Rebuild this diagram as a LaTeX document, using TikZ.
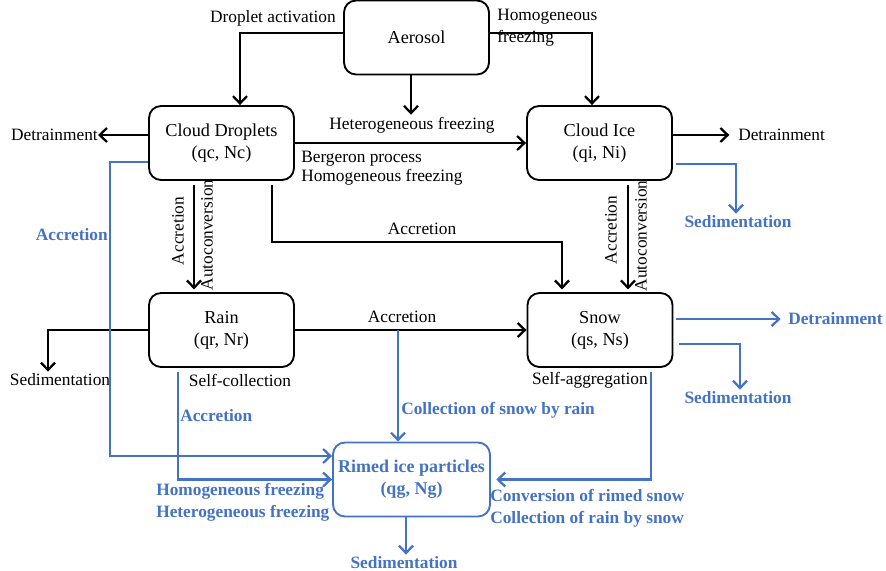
\documentclass[tikz,border=0pt]{standalone}
\usepackage{fontspec}
\setmainfont{Liberation Serif}
\usetikzlibrary{arrows.meta,positioning}
\definecolor{MicroBlue}{HTML}{4472C4}
\definecolor{MicroInk}{HTML}{000000}

\begin{document}
\begin{tikzpicture}[
  x=0.75pt,y=-0.75pt,
  font=\fontsize{13}{16.5}\selectfont,
  box/.style={draw=MicroInk,rounded corners=9pt,line width=1.4pt,minimum width=108.75pt,minimum height=55.5pt,align=center,inner sep=2pt,font=\fontsize{13.7}{16.5}\selectfont},
  rimbox/.style={box,draw=MicroBlue,text=MicroBlue,font=\fontsize{13.5}{16.5}\selectfont\bfseries,minimum width=117.75pt},
  flow/.style={line width=2.1pt,-{Straight Barb[length=5.5pt,width=10.5pt,line width=1.7pt]}},
  bflow/.style={flow,draw=MicroBlue},
  lbl/.style={inner sep=1.5pt},
  blbl/.style={lbl,text=MicroBlue,font=\fontsize{13}{16.5}\selectfont\bfseries},
]
\useasboundingbox (0,0) rectangle (886,571);

% species boxes
\node[box] (aerosol) at (416.5,37.5) {Aerosol};
\node[box] (droplets) at (221.5,143) {Cloud Droplets\\(qc, Nc)};
\node[box] (ice) at (599.5,143) {Cloud Ice\\(qi, Ni)};
\node[box] (rain) at (221.5,330) {Rain\\(qr, Nr)};
\node[box] (snow) at (600,330) {Snow\\(qs, Ns)};
\node[rimbox] (rimed) at (411.5,479.5) {Rimed ice particles\\(qg, Ng)};

% process labels
\node[lbl,anchor=east] (actlbl) at (338,18) {Droplet activation};
\node[lbl,anchor=north west,align=left,font=\fontsize{13}{16.5}\selectfont] (homlbl) at (495,7) {Homogeneous\\freezing};
\node[lbl] (hetfrz) at (412,125) {Heterogeneous freezing};
\node[lbl,anchor=north west,align=left,font=\fontsize{13}{14.25}\selectfont] (berglbl) at (299,149) {Bergeron process\\Homogeneous freezing};
\node[lbl,anchor=east,inner sep=0pt] (detrD) at (98,135) {Detrainment};
\node[lbl,anchor=west] (detrI) at (736,135) {Detrainment};
\node[lbl,rotate=90] at (178,231) {Accretion};
\node[lbl,rotate=90] at (207,235) {Autoconversion};
\node[lbl,rotate=90] at (611,230) {Accretion};
\node[lbl,rotate=90] at (641,236) {Autoconversion};
\node[lbl] (accDS) at (422,229) {Accretion};
\node[lbl] (accRS) at (402,317) {Accretion};
\node[lbl] (sedR) at (60,380) {Sedimentation};
\node[lbl] at (240,380) {Self-collection};
\node[lbl] at (590,380) {Self-aggregation};

% rimed ice labels
\node[blbl,anchor=east] (accDG) at (110,235) {Accretion};
\node[blbl,anchor=west] (accRG) at (178,416) {Accretion};
\node[blbl,anchor=west] (colSR) at (399,410) {Collection of snow by rain};
\node[blbl,anchor=north west,align=left] (frzlbl) at (154,481) {Homogeneous freezing\\Heterogeneous freezing};
\node[blbl,anchor=north west,align=left] (convlbl) at (488,487) {Conversion of rimed snow\\Collection of rain by snow};
\node[blbl] (sedI) at (738,222) {Sedimentation};
\node[blbl,anchor=west] (detrS) at (786,319) {Detrainment};
\node[blbl] (sedS) at (738,398) {Sedimentation};
\node[blbl] (sedG) at (404,563) {Sedimentation};

% black connectors
\draw[flow] (aerosol.west |- 0,33) -| (droplets.north -| 240,0);
\draw[flow] (aerosol.east |- 0,33) -| (ice.north -| 592,0);
\draw[flow] (aerosol.south -| 411,0) -- (hetfrz.north -| 411,0);
\draw[flow] (droplets.east) -- (ice.west);
\draw[flow] (droplets.west |- 0,135) -- (detrD.east);
\draw[flow] (ice.east |- 0,135) -- ([xshift=-5pt]detrI.west);
\draw[flow,shorten <=3pt,shorten >=2pt] (droplets.south -| 194,0) -- (rain.north -| 194,0);
\draw[flow,shorten >=2pt] ([yshift=-3pt]droplets.south -| 272,0) |- (562,242) -- (snow.north -| 562,0);
\draw[flow,shorten <=3pt,shorten >=2pt] (ice.south -| 628,0) -- (snow.north -| 628,0);
\draw[flow] (rain.east) -- (snow.west);
\draw[flow] (rain.west) -| ([xshift=-9pt]sedR.north);

% blue connectors
\draw[bflow] (droplets.west |- 0,162) -| (110,456) -- (rimed.west |- 0,456);
\draw[bflow,shorten <=3pt] (rain.south -| 178,0) |- (rimed.west);
\draw[bflow] (rain.east -| 398,0) -- (rimed.north -| 398,0);
\draw[bflow,shorten <=3pt,shorten >=4pt] (snow.south -| 651,0) |- (rimed.east);
\draw[bflow] (rimed.south -| 406,0) -- (sedG.north -| 406,0);
\draw[bflow] ([xshift=2pt]ice.east |- 0,164) -| (sedI.north -| 736,0);
\draw[bflow] ([xshift=2pt]snow.east |- 0,319) -- ([xshift=-4pt]detrS.west);
\draw[bflow] ([xshift=4pt]snow.east |- 0,344) -| (sedS.north -| 740,0);
\end{tikzpicture}
\end{document}
